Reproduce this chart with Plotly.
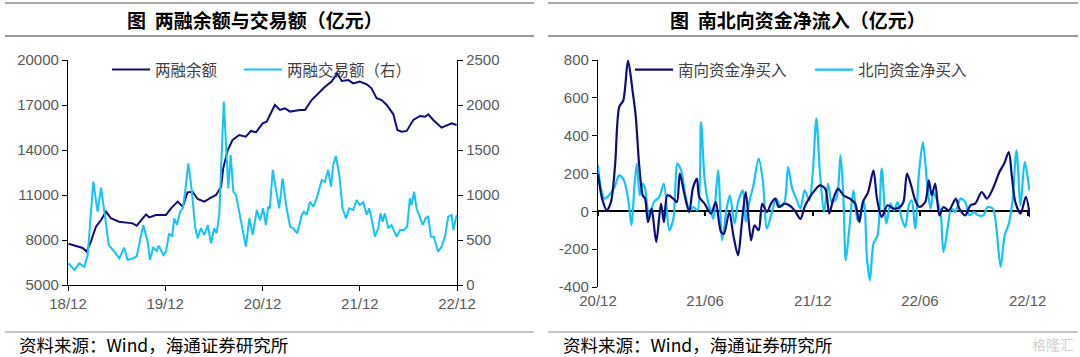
import plotly.graph_objects as go

# ---------------- Left chart: margin balance & turnover ----------------
bal_dates = ["2018-12-03", "2018-12-31", "2019-01-25", "2019-02-09", "2019-02-25", "2019-03-16",
             "2019-04-04", "2019-04-23", "2019-05-11", "2019-06-11", "2019-07-07", "2019-08-01",
             "2019-08-16", "2019-09-01", "2019-09-20", "2019-10-02", "2019-10-27", "2019-12-04",
             "2019-12-23", "2020-01-17", "2020-02-05", "2020-02-23", "2020-03-13", "2020-04-01",
             "2020-04-26", "2020-05-21", "2020-06-09", "2020-06-28", "2020-07-06", "2020-07-23",
             "2020-08-10", "2020-09-04", "2020-09-29", "2020-10-18", "2020-11-06", "2020-12-01",
             "2020-12-16", "2021-01-16", "2021-02-04", "2021-02-23", "2021-03-14", "2021-04-20",
             "2021-05-09", "2021-06-03", "2021-06-28", "2021-07-23", "2021-08-17", "2021-09-07",
             "2021-09-24", "2021-10-19", "2021-11-06", "2021-12-01", "2021-12-27", "2022-01-14",
             "2022-02-02", "2022-02-21", "2022-03-12", "2022-04-06", "2022-04-21", "2022-05-07",
             "2022-05-26", "2022-06-20", "2022-07-15", "2022-08-03", "2022-08-15", "2022-09-03",
             "2022-10-04", "2022-10-23", "2022-11-11", "2022-11-30"]
bal_values = [7750, 7620, 7470, 7230, 7890, 8890,
              9330, 9890, 9450, 9220, 9180, 9110,
              8950, 9330, 9710, 9510, 9670, 9670,
              10110, 10560, 10220, 11180, 11220, 10730,
              10560, 10820, 11000, 11550, 12780, 14000,
              14670, 15000, 14890, 15270, 15180, 15780,
              15890, 17000, 16670, 16780, 16560, 16670,
              16670, 17330, 17780, 18220, 18560, 19110,
              18600, 18670, 18440, 18560, 18380, 18110,
              17450, 17330, 17000, 16380, 15330, 15220,
              15270, 16000, 16270, 16220, 16380, 16000,
              15490, 15620, 15780, 15670]

vol_dates = ["2018-12-03", "2018-12-25", "2019-01-12", "2019-01-31", "2019-02-13", "2019-03-06",
             "2019-03-22", "2019-04-04", "2019-04-20", "2019-05-03", "2019-05-24", "2019-06-12",
             "2019-06-30", "2019-07-13", "2019-08-01", "2019-08-16", "2019-08-26", "2019-09-10",
             "2019-09-26", "2019-10-05", "2019-10-17", "2019-10-30", "2019-11-07", "2019-11-24",
             "2019-12-04", "2019-12-16", "2019-12-27", "2020-01-04", "2020-01-14", "2020-01-26",
             "2020-02-05", "2020-02-14", "2020-02-26", "2020-03-09", "2020-03-23", "2020-04-01",
             "2020-04-13", "2020-04-26", "2020-05-09", "2020-05-21", "2020-06-02", "2020-06-11",
             "2020-06-21", "2020-06-30", "2020-07-08", "2020-07-16", "2020-07-25", "2020-08-03",
             "2020-08-13", "2020-08-23", "2020-09-02", "2020-09-17", "2020-09-29", "2020-10-12",
             "2020-10-25", "2020-11-09", "2020-11-21", "2020-12-03", "2020-12-13", "2020-12-22",
             "2020-12-28", "2021-01-08", "2021-01-20", "2021-02-01", "2021-02-14", "2021-02-27",
             "2021-03-14", "2021-03-26", "2021-04-10", "2021-04-27", "2021-05-05", "2021-05-15",
             "2021-05-28", "2021-06-09", "2021-06-22", "2021-07-11", "2021-07-23", "2021-08-04",
             "2021-08-15", "2021-08-23", "2021-09-02", "2021-09-15", "2021-09-27", "2021-10-10",
             "2021-10-22", "2021-11-06", "2021-11-19", "2021-12-01", "2021-12-14", "2021-12-27",
             "2022-01-05", "2022-01-14", "2022-01-27", "2022-02-08", "2022-02-17", "2022-02-25",
             "2022-03-05", "2022-03-18", "2022-03-30", "2022-04-08", "2022-04-18", "2022-05-01",
             "2022-05-16", "2022-05-28", "2022-06-07", "2022-06-13", "2022-06-23", "2022-07-02",
             "2022-07-15", "2022-07-25", "2022-08-05", "2022-08-15", "2022-08-25", "2022-09-05",
             "2022-09-21", "2022-10-04", "2022-10-17", "2022-10-29", "2022-11-11", "2022-11-17",
             "2022-11-30"]
vol_values = [241, 167, 241, 204, 333, 1148,
              815, 1081, 741, 444, 370, 296,
              415, 278, 296, 315, 463, 667,
              481, 278, 415, 378, 437, 333,
              370, 574, 537, 741, 667, 815,
              852, 1037, 1352, 1074, 630, 519,
              630, 556, 667, 463, 630, 574,
              778, 1444, 2037, 1593, 1074, 1444,
              1037, 1000, 852, 593, 426, 741,
              556, 833, 720, 852, 667, 870,
              852, 1278, 1074, 852, 1185, 889,
              648, 630, 574, 778, 815, 778,
              926, 870, 963, 1167, 1148, 1278,
              1093, 1333, 1433, 1222, 852, 741,
              852, 833, 944, 889, 919, 778,
              852, 741, 537, 630, 796, 704,
              796, 630, 667, 611, 537, 611,
              611, 648, 963, 889, 1037, 852,
              741, 667, 741, 759, 537, 537,
              370, 426, 537, 759, 778, 611,
              778]

left_x_ticks = ["2018-12-01", "2019-12-01", "2020-12-01", "2021-12-01", "2022-12-01"]
left_x_labels = ["18/12", "19/12", "20/12", "21/12", "22/12"]
left_y_ticks = [5000, 8000, 11000, 14000, 17000, 20000]
left_y_labels = ["5000", "8000", "11000", "14000", "17000", "20000"]
left_y2_ticks = [0, 500, 1000, 1500, 2000, 2500]
left_y2_labels = ["0", "500", "1000", "1500", "2000", "2500"]

# ---------------- Right chart: southbound / northbound net buying ----------------
south_dates = ["2020-12-01", "2020-12-08", "2020-12-16", "2020-12-23", "2020-12-30", "2021-01-06",
               "2021-01-13", "2021-01-21", "2021-01-29", "2021-02-03", "2021-02-09", "2021-02-15",
               "2021-02-19", "2021-02-24", "2021-03-02", "2021-03-10", "2021-03-18", "2021-03-23",
               "2021-03-29", "2021-04-08", "2021-04-14", "2021-04-19", "2021-04-26", "2021-05-05",
               "2021-05-11", "2021-05-18", "2021-05-22", "2021-05-31", "2021-06-11", "2021-06-19",
               "2021-06-28", "2021-07-03", "2021-07-12", "2021-07-19", "2021-07-27", "2021-08-02",
               "2021-08-09", "2021-08-18", "2021-08-24", "2021-08-31", "2021-09-06", "2021-09-14",
               "2021-09-21", "2021-09-28", "2021-10-04", "2021-10-14", "2021-10-22", "2021-10-31",
               "2021-11-10", "2021-11-17", "2021-11-26", "2021-12-04", "2021-12-13", "2021-12-22",
               "2021-12-29", "2022-01-05", "2022-01-13", "2022-01-22", "2022-02-02", "2022-02-11",
               "2022-02-18", "2022-02-24", "2022-03-05", "2022-03-14", "2022-03-20", "2022-03-28",
               "2022-04-07", "2022-04-17", "2022-04-28", "2022-05-04", "2022-05-10", "2022-05-17",
               "2022-05-24", "2022-05-31", "2022-06-10", "2022-06-16", "2022-06-21", "2022-06-27",
               "2022-07-04", "2022-07-11", "2022-07-20", "2022-08-01", "2022-08-07", "2022-08-17",
               "2022-08-26", "2022-09-03", "2022-09-14", "2022-09-23", "2022-10-03", "2022-10-14",
               "2022-10-22", "2022-10-30", "2022-11-04", "2022-11-10", "2022-11-19", "2022-11-28",
               "2022-12-05"]
south_values = [199, 67, 5, 49, 243, 551,
                587, 798, 631, 507, 243, 85,
                67, -57, 14, -162, 41, -57,
                85, 67, 49, 199, 102, -4,
                120, 173, 76, 41, -12, 49,
                -109, -118, -4, -127, -233, -74,
                102, -153, -74, -100, 41, -4,
                41, 67, 23, 41, 32, 5,
                -40, 23, 76, 110, 137, 120,
                -12, 67, 120, 85, 67, 41,
                -57, 49, 102, 217, 67, -30,
                32, 14, 23, 49, 199, 137,
                58, 23, 49, 164, 85, 146,
                -21, 23, 5, 67, 14, -21,
                32, 41, 102, 67, 120, 208,
                252, 313, 190, 49, -12, 76,
                -30]

north_dates = ["2020-12-01", "2020-12-06", "2020-12-12", "2020-12-20", "2020-12-29", "2021-01-06",
               "2021-01-14", "2021-01-22", "2021-01-27", "2021-02-01", "2021-02-05", "2021-02-10",
               "2021-02-15", "2021-02-19", "2021-02-26", "2021-03-06", "2021-03-15", "2021-03-23",
               "2021-04-01", "2021-04-08", "2021-04-15", "2021-04-22", "2021-04-29", "2021-05-06",
               "2021-05-12", "2021-05-19", "2021-05-25", "2021-05-31", "2021-06-06", "2021-06-11",
               "2021-06-15", "2021-06-23", "2021-06-30", "2021-07-07", "2021-07-13", "2021-07-21",
               "2021-07-27", "2021-08-04", "2021-08-09", "2021-08-15", "2021-08-22", "2021-08-31",
               "2021-09-07", "2021-09-14", "2021-09-21", "2021-09-30", "2021-10-07", "2021-10-14",
               "2021-10-20", "2021-10-27", "2021-11-03", "2021-11-10", "2021-11-17", "2021-11-25",
               "2021-12-01", "2021-12-07", "2021-12-13", "2021-12-20", "2021-12-27", "2022-01-02",
               "2022-01-10", "2022-01-17", "2022-01-22", "2022-01-26", "2022-02-01", "2022-02-08",
               "2022-02-15", "2022-02-21", "2022-02-26", "2022-03-03", "2022-03-08", "2022-03-14",
               "2022-03-21", "2022-03-28", "2022-04-05", "2022-04-12", "2022-04-18", "2022-04-24",
               "2022-05-01", "2022-05-07", "2022-05-13", "2022-05-18", "2022-05-24", "2022-05-30",
               "2022-06-06", "2022-06-13", "2022-06-19", "2022-06-24", "2022-06-30", "2022-07-06",
               "2022-07-11", "2022-07-18", "2022-07-24", "2022-07-31", "2022-08-09", "2022-08-17",
               "2022-08-24", "2022-09-01", "2022-09-08", "2022-09-17", "2022-09-24", "2022-10-03",
               "2022-10-09", "2022-10-16", "2022-10-23", "2022-10-30", "2022-11-05", "2022-11-12",
               "2022-11-19", "2022-11-26", "2022-12-04"]
north_values = [243, 120, 67, 85, 128, 190,
                164, 49, -74, 137, 252, 85,
                146, 120, -39, 49, 76, 146,
                -100, -39, 252, 208, 76, 5,
                23, 5, 472, 173, 49, -4,
                -39, 217, -153, 5, 85, -65,
                49, 111, -57, 49, 137, 279,
                164, -91, -21, 67, 23, 49,
                234, 120, 67, 14, 111, 58,
                208, 490, 208, -4, 146, 49,
                67, 296, 67, -259, -91, 111,
                -48, -4, 49, -250, -365, -171,
                -127, 226, -65, 41, 5, 49,
                -39, -83, 32, 58, -91, 190,
                366, 155, 14, 102, 58, -4,
                -215, -91, 14, -4, 67, 49,
                -21, -4, -21, -21, 23, 14,
                -91, -294, -127, -65, 49, 322,
                32, 261, 111]

right_x_ticks = ["2020-12-01", "2021-06-01", "2021-12-01", "2022-06-01", "2022-12-01"]
right_x_labels = ["20/12", "21/06", "21/12", "22/06", "22/12"]
right_y_ticks = [-400, -200, 0, 200, 400, 600, 800]
right_y_labels = ["-400", "-200", "0", "200", "400", "600", "800"]

NAVY = "#0E0E78"
CYAN = "#14C3F7"
TICK_COLOR = "#595959"
W, H = 1080, 357


def px_x(p):
    return p / W


def px_y(p):
    return 1 - p / H


left_dom_x = [px_x(68), px_x(457)]
left_dom_y = [px_y(285), px_y(60)]
right_dom_x = [px_x(598), px_x(1030)]
right_dom_y = [px_y(287), px_y(60)]
right_range_y = [-400, 800]
zero_pos = right_dom_y[0] + (0 - right_range_y[0]) / (right_range_y[1] - right_range_y[0]) * (right_dom_y[1] - right_dom_y[0])

fig = go.Figure()

fig.add_trace(go.Scatter(x=bal_dates, y=bal_values, name="两融余额", mode="lines",
                         line=dict(color=NAVY, width=2), xaxis="x", yaxis="y", legend="legend"))
fig.add_trace(go.Scatter(x=vol_dates, y=vol_values, name="两融交易额（右）", mode="lines",
                         line=dict(color=CYAN, width=2), xaxis="x", yaxis="y2", legend="legend2"))
fig.add_trace(go.Scatter(x=south_dates, y=south_values, name="南向资金净买入", mode="lines",
                         line=dict(color=NAVY, width=2.2, shape="spline", smoothing=0.8),
                         xaxis="x3", yaxis="y3", legend="legend3"))
fig.add_trace(go.Scatter(x=north_dates, y=north_values, name="北向资金净买入", mode="lines",
                         line=dict(color=CYAN, width=2.2, shape="spline", smoothing=0.8),
                         xaxis="x2", yaxis="y3", legend="legend4"))

tick_font = dict(family="Liberation Sans, Arial, sans-serif", size=15, color=TICK_COLOR)
axis_common = dict(showgrid=False, zeroline=False, showline=True, linecolor="black", linewidth=1.3,
                   ticks="outside", ticklen=5, tickcolor="black", tickwidth=1.3, tickfont=tick_font,
                   automargin=False)

fig.update_layout(
    width=W, height=H,
    margin=dict(l=0, r=0, t=0, b=0, autoexpand=False),
    paper_bgcolor="white", plot_bgcolor="white",
    showlegend=True,
    xaxis=dict(domain=left_dom_x, anchor="y", type="date",
               range=[left_x_ticks[0], left_x_ticks[-1]],
               tickvals=left_x_ticks, ticktext=left_x_labels, **axis_common),
    yaxis=dict(domain=left_dom_y, anchor="x", range=[left_y_ticks[0], left_y_ticks[-1]],
               tickvals=left_y_ticks, ticktext=left_y_labels, **axis_common),
    yaxis2=dict(overlaying="y", side="right", anchor="x", range=[left_y2_ticks[0], left_y2_ticks[-1]],
                tickvals=left_y2_ticks, ticktext=left_y2_labels, **axis_common),
    xaxis2=dict(domain=right_dom_x, anchor="y3", type="date",
                range=["2020-12-01", "2022-12-05"],
                tickvals=right_x_ticks, ticktext=right_x_labels, automargin=False,
                showgrid=False, zeroline=False, showline=False, ticks="", tickfont=tick_font,
                ticklabelstandoff=3),
    xaxis3=dict(overlaying="x2", anchor="free", position=zero_pos, type="date",
                range=["2020-12-01", "2022-12-05"], tickvals=right_x_ticks,
                showticklabels=False, layer="below traces", automargin=False,
                showgrid=False, zeroline=False, showline=True, linecolor="black", linewidth=1.5,
                ticks="outside", ticklen=4, tickcolor="black", tickwidth=1.5),
    yaxis3=dict(domain=right_dom_y, anchor="x2", range=right_range_y,
                tickvals=right_y_ticks, ticktext=right_y_labels, **axis_common),
)

leg_font = dict(family="Noto Sans CJK SC", size=15.5, color="#404040")
for key, lx in [("legend", 107), ("legend2", 239), ("legend3", 630), ("legend4", 810)]:
    fig.update_layout({key: dict(x=px_x(lx), y=px_y(70), xanchor="left", yanchor="middle",
                                 orientation="h", bgcolor="rgba(0,0,0,0)", borderwidth=0,
                                 font=leg_font, itemwidth=38)})

# titles
title_font = dict(family="Noto Sans CJK SC", size=19, color="black", weight="bold")
fig.add_annotation(text="图  两融余额与交易额（亿元）", x=px_x(255), y=px_y(19), xref="paper", yref="paper",
                   showarrow=False, font=title_font, xanchor="center", yanchor="middle")
fig.add_annotation(text="图  南北向资金净流入（亿元）", x=px_x(798), y=px_y(19), xref="paper", yref="paper",
                   showarrow=False, font=title_font, xanchor="center", yanchor="middle")

# source notes
src_font = dict(family="Noto Sans CJK SC", size=17.5, color="black")
fig.add_annotation(text="资料来源：Wind，海通证券研究所", x=px_x(17), y=px_y(344.5), xref="paper", yref="paper",
                   showarrow=False, font=src_font, xanchor="left", yanchor="middle")
fig.add_annotation(text="资料来源：Wind，海通证券研究所", x=px_x(561), y=px_y(344.5), xref="paper", yref="paper",
                   showarrow=False, font=src_font, xanchor="left", yanchor="middle")
fig.add_annotation(text="格隆汇", x=px_x(1076), y=px_y(344), xref="paper", yref="paper",
                   showarrow=False, font=dict(family="Noto Sans CJK SC", size=14, color="#d0d0d0"),
                   xanchor="right", yanchor="middle")

# separator rules
for x0, x1 in [(5, 534), (548, 1078)]:
    fig.add_shape(type="line", xref="paper", yref="paper", x0=px_x(x0), x1=px_x(x1),
                  y0=px_y(3), y1=px_y(3), line=dict(color="#8c8c8c", width=1.5))
    fig.add_shape(type="line", xref="paper", yref="paper", x0=px_x(x0), x1=px_x(x1),
                  y0=px_y(36), y1=px_y(36), line=dict(color="#9a9a9a", width=2))
    fig.add_shape(type="line", xref="paper", yref="paper", x0=px_x(x0), x1=px_x(x1),
                  y0=px_y(332), y1=px_y(332), line=dict(color="#8c8c8c", width=1.2))

fig.write_html("out.html", config={"displayModeBar": False},
               post_script="document.body.style.margin='0';document.body.style.padding='0';")
